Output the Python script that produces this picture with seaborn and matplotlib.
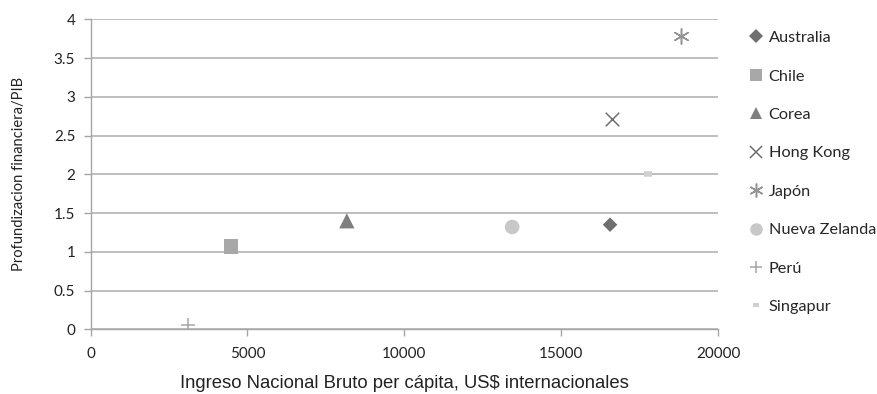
import matplotlib
matplotlib.use("Agg")
import matplotlib.pyplot as plt
from matplotlib.lines import Line2D
import seaborn as sns
import pandas as pd

countries = ["Australia", "Chile", "Corea", "Hong Kong", "Japón",
             "Nueva Zelanda", "Perú", "Singapur"]
ingreso = [16560, 4480, 8170, 16620, 18820, 13440, 3110, 17780]
profundizacion = [1.35, 1.07, 1.40, 2.72, 3.78, 1.32, 0.06, 2.01]

x_ticks = [0, 5000, 10000, 15000, 20000]
y_ticks = [0, 0.5, 1, 1.5, 2, 2.5, 3, 3.5, 4]
y_tick_labels = ["0", "0.5", "1", "1.5", "2", "2.5", "3", "3.5", "4"]

df = pd.DataFrame({"pais": countries, "ingreso": ingreso,
                   "prof": profundizacion})

# marker, colour, size, linewidth per country
styles = {
    "Australia":     ("D", "#6f6f6f", 55, 0),
    "Chile":         ("s", "#a8a8a8", 110, 0),
    "Corea":         ("^", "#7f7f7f", 120, 0),
    "Hong Kong":     ("x", "#6f6f6f", 95, 1.1),
    "Japón":         ((6, 2, 0), "#959595", 120, 1.1),
    "Nueva Zelanda": ("o", "#c8c8c8", 110, 0),
    "Perú":          ("+", "#a5a5a5", 100, 1.1),
    "Singapur":      ("_", "#d0d0d0", 30, 4.0),
}
legend_sizes = {"Australia": 7, "Chile": 9, "Corea": 9, "Hong Kong": 9,
                "Japón": 10, "Nueva Zelanda": 9, "Perú": 9, "Singapur": 5}

sns.set_theme(style="white")
plt.rcParams["font.family"] = ["Lato", "DejaVu Sans"]

fig = plt.figure(figsize=(8.77, 3.94), dpi=100)
ax = fig.add_axes([0.1032, 0.1642, 0.7155, 0.7868])

for pais in countries:
    m, c, s, lw = styles[pais]
    sub = df[df["pais"] == pais]
    if lw:
        sns.scatterplot(data=sub, x="ingreso", y="prof", marker=m, color=c,
                        s=s, linewidth=lw, ax=ax, zorder=3)
    else:
        sns.scatterplot(data=sub, x="ingreso", y="prof", marker=m, color=c,
                        s=s, linewidth=0, edgecolor="none", ax=ax, zorder=3)

ax.set_xlim(0, 20000)
ax.set_ylim(0, 4)
ax.set_xticks(x_ticks)
ax.set_xticklabels([str(v) for v in x_ticks])
ax.set_yticks(y_ticks)
ax.set_yticklabels(y_tick_labels)

ax.yaxis.grid(True, color="#b3b3b3", linewidth=1.2)
ax.xaxis.grid(False)
ax.set_axisbelow(True)

for side in ["top", "right"]:
    ax.spines[side].set_visible(False)
for side in ["left", "bottom"]:
    ax.spines[side].set_color("#a6a6a6")
    ax.spines[side].set_linewidth(1.0)

ax.tick_params(axis="both", which="major", length=5, width=1.0,
               color="#a6a6a6", labelsize=11, labelcolor="#222222",
               direction="out", left=True, bottom=True)
ax.tick_params(axis="x", pad=8)
ax.tick_params(axis="y", pad=6)

ax.set_xlabel("Ingreso Nacional Bruto per cápita, US$ internacionales",
              fontsize=13.3, family=["Liberation Sans", "DejaVu Sans"],
              color="#222222", labelpad=10)
ax.set_ylabel("Profundizacion financiera/PIB", fontsize=10.6,
              color="#222222", labelpad=20)

handles = []
for pais in countries:
    m, c, s, lw = styles[pais]
    ms = legend_sizes[pais]
    if lw:
        h = Line2D([], [], linestyle="none", marker=m, color=c, markersize=ms,
                   markeredgewidth=3.0 if pais == "Singapur" else lw)
    else:
        h = Line2D([], [], linestyle="none", marker=m, color=c,
                   markersize=ms, markeredgewidth=0)
    handles.append(h)

fig.legend(handles, countries, loc="upper left",
           bbox_to_anchor=(0.855, 0.922), frameon=False,
           fontsize=11.7, handlelength=0.7, handletextpad=0.45,
           labelspacing=1.48, borderaxespad=0, borderpad=0)

fig.savefig("out.png", dpi=100)
